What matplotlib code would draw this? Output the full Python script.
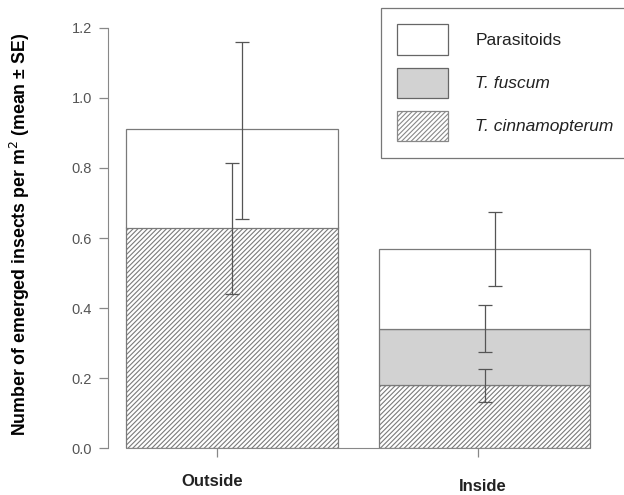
import numpy as np
import matplotlib
matplotlib.use('Agg')
import matplotlib.pyplot as plt
from matplotlib.patches import Patch

plt.rcParams['font.family'] = ['Liberation Sans', 'DejaVu Sans']
plt.rcParams['hatch.linewidth'] = 0.8
plt.rcParams['hatch.color'] = '#8a8a8a'

# data (stacked segment heights)
sites = ['Outside', 'Inside']
cinnamopterum = [0.63, 0.18]
fuscum = [0.0, 0.16]
parasitoids = [0.28, 0.23]

# error bar ends (mean - SE, mean + SE) at each segment top
err_cinn_lo = [0.44, 0.131]
err_cinn_hi = [0.815, 0.226]
err_fusc_lo = [np.nan, 0.274]
err_fusc_hi = [np.nan, 0.409]
err_para_lo = [0.655, 0.464]
err_para_hi = [1.16, 0.675]

yticks = [0.0, 0.2, 0.4, 0.6, 0.8, 1.0, 1.2]

fig = plt.figure(figsize=(6.24, 4.95), dpi=100)
ax = fig.add_axes([108/624, 47/495, 492/624, 420/495])

x = np.arange(len(sites))
w = 0.836
edge = '#7a7a7a'
cinn = np.array(cinnamopterum)
fusc = np.array(fuscum)
para = np.array(parasitoids)

ax.bar(x, cinn, w, color='white', edgecolor=edge, hatch='///////', lw=0.9)
ax.bar(x[1:], fusc[1:], w, bottom=cinn[1:], color='#d2d2d2', edgecolor=edge, lw=0.9)
ax.bar(x, para, w, bottom=cinn + fusc, color='white', edgecolor=edge, lw=0.9)

ecol = '#555555'
def err(xs, lo, hi):
    lo = np.array(lo); hi = np.array(hi)
    mid = (lo + hi) / 2
    ok = ~np.isnan(mid)
    ax.errorbar(np.array(xs)[ok], mid[ok], yerr=((hi - lo) / 2)[ok], fmt='none',
                ecolor=ecol, elinewidth=0.9, capsize=5, capthick=0.9)

err(x, err_cinn_lo, err_cinn_hi)
err(x, err_fusc_lo, err_fusc_hi)
err(x + 0.04, err_para_lo, err_para_hi)

ax.set_xlim(-0.491, 1.457)
ax.set_ylim(0, 1.2)
for s in ['top', 'right']:
    ax.spines[s].set_visible(False)
ax.spines['left'].set_bounds(0, 1.2)
ax.spines['left'].set_color('#888888')
ax.spines['bottom'].set_bounds(-0.418, 1.418)
ax.spines['bottom'].set_color('#888888')
ax.set_yticks(yticks)
ax.set_yticklabels(['%.1f' % v for v in yticks])
ax.tick_params(axis='y', length=6.5, width=0.9, color='#888888', labelcolor='#555555',
               labelsize=10.5, pad=5)
ax.set_xticks([-0.06, 0.975])
ax.set_xticklabels([])
ax.tick_params(axis='x', length=6.5, width=0.9, color='#888888')
ax.text(-0.079, -0.0786, sites[0], transform=ax.get_xaxis_transform(), ha='center',
        va='center', fontsize=12, fontweight='bold', color='#222222')
ax.text(0.994, -0.0905, sites[1], transform=ax.get_xaxis_transform(), ha='center',
        va='center', fontsize=12, fontweight='bold', color='#222222')

fig.text(20/624, 0.527, 'Number of emerged insects per m$^2$ (mean ± SE)',
         rotation=90, ha='center', va='center', fontsize=12.8, fontweight='bold')

handles = [Patch(facecolor='white', edgecolor='#666666', lw=0.9),
           Patch(facecolor='#d2d2d2', edgecolor='#666666', lw=0.9),
           Patch(facecolor='white', edgecolor='#888888', hatch='///////', lw=0.9)]
labels = ['Parasitoids', 'T. fuscum', 'T. cinnamopterum']
leg = fig.legend(handles, labels, loc='upper left', bbox_to_anchor=(381/624, 1 - 8/495),
                 fontsize=12.5, handlelength=2.93, handleheight=2.3, labelspacing=0.75,
                 borderpad=0.95, handletextpad=1.55, fancybox=False, framealpha=1,
                 edgecolor='#777777', borderaxespad=0)
leg.get_frame().set_linewidth(0.9)
for t in leg.get_texts()[1:]:
    t.set_fontstyle('italic')
for t in leg.get_texts():
    t.set_color('#222222')

fig.savefig('out.png', dpi=100)
